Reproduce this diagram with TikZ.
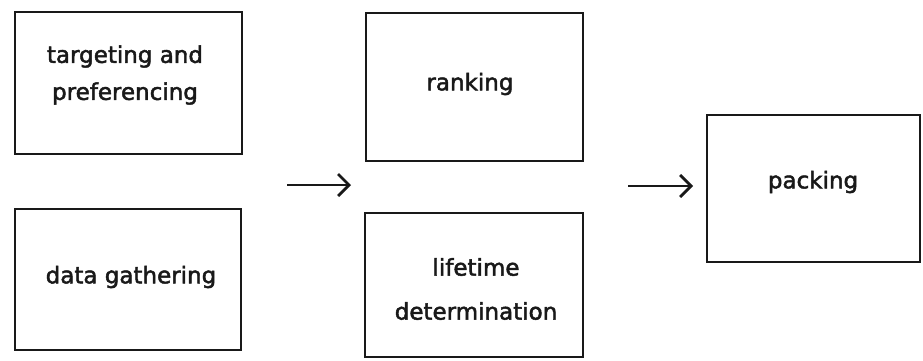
\documentclass[tikz,border=0pt]{standalone}
\usepackage{fontspec}
\setmainfont{DejaVu Sans}
\newfontfamily\diagfont[FakeBold=2]{DejaVu Sans}
\usetikzlibrary{arrows.meta}
\begin{document}
\begin{tikzpicture}[x=1pt,y=-1pt,
  box/.style={draw=black!90,line width=2.8pt,inner sep=0pt},
  txtL/.style={font=\diagfont\fontsize{23}{37}\selectfont,align=center,inner sep=0pt,text=black!90},
  txtR/.style={font=\diagfont\fontsize{23}{44}\selectfont,align=center,inner sep=0pt,text=black!90},
  arr/.style={line width=2.8pt,draw=black!90,-{Straight Barb[length=11pt,width=22pt,line width=2.8pt]}}]
\useasboundingbox (0,0) rectangle (923,360);
% boxes
\draw[box] (15,12) rectangle (242,154) node[pos=0.5,inner sep=0pt] (b1) {};
\draw[box] (15,209) rectangle (241,350) node[pos=0.5,inner sep=0pt] (b2) {};
\draw[box] (366,13) rectangle (583,161) node[pos=0.5,inner sep=0pt] (b3) {};
\draw[box] (365,213) rectangle (583,357) node[pos=0.5,inner sep=0pt] (b4) {};
\draw[box] (707,115) rectangle (920,262) node[pos=0.5,inner sep=0pt] (b5) {};
% texts
\node[txtL] (t1) at (125,75) {targeting and\\preferencing};
\node[txtL] (t2) at (131,277) {data gathering};
\node[txtR] (t3) at (470,84) {ranking};
\node[txtR] (t4) at (476,289) {lifetime\\determination};
\node[txtR] (t5) at (813,182) {packing};
% arrows
\coordinate (a1s) at (287,185);
\coordinate (a1e) at (351,185);
\coordinate (a2s) at (628,186);
\coordinate (a2e) at (693,186);
\draw[arr] (a1s) -- (a1e);
\draw[arr] (a2s) -- (a2e);
\end{tikzpicture}
\end{document}
